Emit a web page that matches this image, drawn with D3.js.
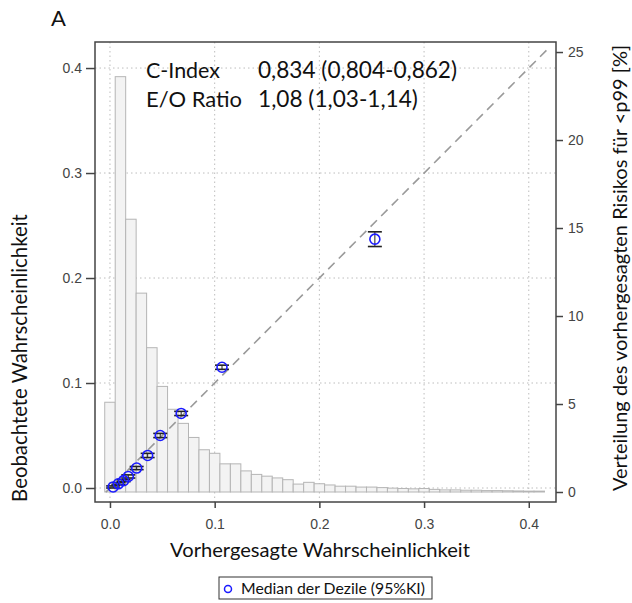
<!DOCTYPE html>
<html>
<head>
<meta charset="utf-8">
<script src="https://cdn.jsdelivr.net/npm/d3@7"></script>
<style>
  body { margin: 0; background: #fff; }
  svg { display: block; }
  .tick text { font-family: "Liberation Sans", Arial, sans-serif; font-size: 14px; fill: #444; }
  .lbl { font-family: Lato, "Open Sans", sans-serif; fill: #111; }
</style>
</head>
<body>
<div id="chart"></div>
<script>
// histogram of predicted risk (% of patients per 0.01 bin, first bin centred on 0)
const histPct = [5.1, 23.6, 15.5, 11.3, 8.2, 6.0, 4.7, 3.9, 3.1, 2.4,
  2.2, 1.6, 1.6, 1.2, 1.0, 0.9, 0.8, 0.7, 0.45, 0.55,
  0.47, 0.4, 0.33, 0.33, 0.28, 0.28, 0.25, 0.22, 0.2, 0.18,
  0.2, 0.15, 0.12, 0.12, 0.1, 0.1, 0.08, 0.08, 0.07, 0.06, 0.05, 0.05];
const binWidth = 0.01;

// deciles: median predicted vs observed (95% CI)
const predMedian = [0.003, 0.008, 0.013, 0.0175, 0.0255, 0.036, 0.048, 0.068, 0.107, 0.253];
const obsRate    = [0.001, 0.004, 0.007, 0.011, 0.019, 0.031, 0.050, 0.071, 0.115, 0.237];
const obsLower   = [0.000, 0.003, 0.006, 0.0095, 0.0175, 0.029, 0.048, 0.069, 0.113, 0.230];
const obsUpper   = [0.002, 0.005, 0.008, 0.0125, 0.0205, 0.033, 0.052, 0.073, 0.117, 0.244];

const xTicks = [0, 0.1, 0.2, 0.3, 0.4];
const yTicks = [0, 0.1, 0.2, 0.3, 0.4];
const y2Ticks = [0, 5, 10, 15, 20, 25];

const statNames = ["C-Index", "E/O Ratio"];
const statValues = ["0,834 (0,804-0,862)", "1,08 (1,03-1,14)"];

const W = 632, H = 603;
const box = { left: 95, right: 556, top: 42, bottom: 502 };

const svg = d3.select("#chart").append("svg").attr("width", W).attr("height", H);

const x = d3.scaleLinear().domain([-0.0143, 0.426]).range([box.left, box.right]);
const y = d3.scaleLinear().domain([-0.01333, 0.4248]).range([box.bottom, box.top]);
const y2 = d3.scaleLinear().domain([-0.568, 25.57]).range([box.bottom, box.top]);

// grid
const grid = svg.append("g").attr("stroke", "#bdbdbd").attr("stroke-dasharray", "1.5,3").attr("stroke-width", 1);
grid.selectAll(".gx").data(xTicks).join("line")
  .attr("x1", d => x(d)).attr("x2", d => x(d)).attr("y1", box.top).attr("y2", box.bottom);
grid.selectAll(".gy").data(yTicks).join("line")
  .attr("y1", d => y(d)).attr("y2", d => y(d)).attr("x1", box.left).attr("x2", box.right);

// histogram
svg.append("g").selectAll("rect").data(histPct).join("rect")
  .attr("x", (d, i) => x(i * binWidth - binWidth / 2))
  .attr("width", (d, i) => x(binWidth) - x(0))
  .attr("y", d => y2(d))
  .attr("height", d => y2(0) - y2(d))
  .attr("fill", "#f3f3f3")
  .attr("stroke", "#b5b5b5")
  .attr("stroke-width", 1);

// ideal line
svg.append("line")
  .attr("x1", x(-0.004)).attr("y1", y(-0.004))
  .attr("x2", x(0.417)).attr("y2", y(0.417))
  .attr("stroke", "#9a9a9a").attr("stroke-width", 1.6).attr("stroke-dasharray", "9,6");

// error bars
const eb = svg.append("g").attr("stroke", "#222");
predMedian.forEach((p, i) => {
  eb.append("line").attr("x1", x(p)).attr("x2", x(p)).attr("y1", y(obsLower[i])).attr("y2", y(obsUpper[i])).attr("stroke-width", 1);
  [obsLower[i], obsUpper[i]].forEach(v => {
    eb.append("line").attr("x1", x(p) - 7).attr("x2", x(p) + 7).attr("y1", y(v)).attr("y2", y(v)).attr("stroke-width", 1.6);
  });
});

// points
svg.append("g").selectAll("circle").data(predMedian).join("circle")
  .attr("cx", d => x(d)).attr("cy", (d, i) => y(obsRate[i])).attr("r", 5)
  .attr("fill", "none").attr("stroke", "#1a1aff").attr("stroke-width", 1.6);

// frame
svg.append("rect").attr("x", box.left).attr("y", box.top)
  .attr("width", box.right - box.left).attr("height", box.bottom - box.top)
  .attr("fill", "none").attr("stroke", "#444").attr("stroke-width", 1.5);

// axes
const ax = svg.append("g").attr("transform", `translate(0,${box.bottom})`)
  .call(d3.axisBottom(x).tickValues(xTicks).tickFormat(d3.format(".1f")).tickSize(6).tickPadding(11));
const ay = svg.append("g").attr("transform", `translate(${box.left},0)`)
  .call(d3.axisLeft(y).tickValues(yTicks).tickFormat(d3.format(".1f")).tickSize(9).tickPadding(4));
const ay2 = svg.append("g").attr("transform", `translate(${box.right},0)`)
  .call(d3.axisRight(y2).tickValues(y2Ticks).tickSize(7).tickPadding(5));
[ax, ay, ay2].forEach(a => {
  a.select(".domain").remove();
  a.selectAll(".tick line").attr("stroke", "#444").attr("stroke-width", 1.5);
});

// fit text width helper
function fit(sel, target) {
  const len = sel.node().getComputedTextLength();
  const fs = parseFloat(sel.attr("font-size"));
  sel.attr("font-size", (fs * target / len).toFixed(2));
  return sel;
}

// labels
fit(svg.append("text").attr("class", "lbl").attr("x", 320).attr("y", 557)
  .attr("text-anchor", "middle").attr("font-size", 19).text("Vorhergesagte Wahrscheinlichkeit"), 300);

fit(svg.append("text").attr("class", "lbl").attr("transform", "translate(27,358) rotate(-90)")
  .attr("text-anchor", "middle").attr("font-size", 19).text("Beobachtete Wahrscheinlichkeit"), 288);

fit(svg.append("text").attr("class", "lbl").attr("transform", "translate(627,268) rotate(-90)")
  .attr("text-anchor", "middle").attr("font-size", 19).text("Verteilung des vorhergesagten Risikos für <p99 [%]"), 446);

svg.append("text").attr("class", "lbl").attr("x", 51).attr("y", 26).attr("font-size", 22).text("A");

statNames.forEach((s, i) => {
  fit(svg.append("text").attr("class", "lbl").attr("x", 146).attr("y", 78 + i * 29)
    .attr("font-size", 20).text(s), i === 0 ? 74 : 96);
  const t = svg.append("text").attr("class", "lbl").attr("x", 258).attr("y", 78 + i * 29)
    .attr("font-size", 20).text(statValues[i]);
  fit(t, i === 0 ? 199 : 160);
});

// legend
const lg = svg.append("g");
lg.append("rect").attr("x", 219).attr("y", 577).attr("width", 213).attr("height", 22)
  .attr("fill", "#fff").attr("stroke", "#333").attr("stroke-width", 1);
lg.append("circle").attr("cx", 228).attr("cy", 589).attr("r", 3.5)
  .attr("fill", "none").attr("stroke", "#1a1aff").attr("stroke-width", 1.5);
fit(lg.append("text").attr("class", "lbl").attr("x", 241).attr("y", 594)
  .attr("font-size", 14).text("Median der Dezile (95%KI)"), 184);
</script>
</body>
</html>
